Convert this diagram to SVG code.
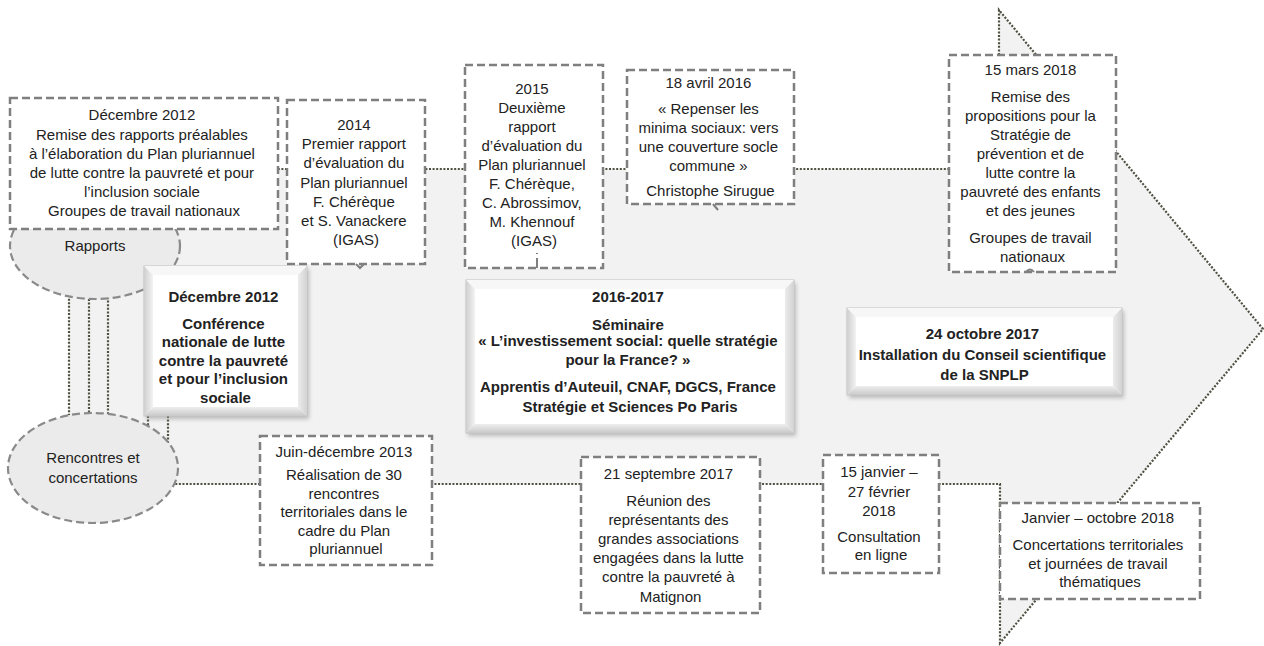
<svg xmlns="http://www.w3.org/2000/svg" width="1264" height="646" viewBox="0 0 1264 646">
  <defs>
    <style>
      .t { font-family: "Liberation Sans", Arial, sans-serif; font-size: 15px; fill: #222; text-anchor: middle; }
      .b { font-weight: bold; }
      .card { fill: #ffffff; stroke: #7f7f7f; stroke-width: 2.5; stroke-dasharray: 8 4; }
      .oval { fill: #ebebeb; stroke: #8a8a8a; stroke-width: 2.2; stroke-dasharray: 8 4; }
      .dots { fill: none; stroke: #4f4f42; stroke-width: 2.2; stroke-dasharray: 2 1.6; }
      .arrow { fill: #f2f2f2; stroke: #4f4f42; stroke-width: 2.2; stroke-dasharray: 2 1.6; }
      .tick { fill: none; stroke: #7f7f7f; stroke-width: 2; }
      .bev-out { fill: #ffffff; stroke: #c4c4c4; stroke-width: 1; }
      .bev-top { fill: #f7f7f7; }
      .bev-left { fill: url(#bevL); }
      .bev-right { fill: url(#bevR); }
      .bev-bot { fill: url(#bevB); }
      .bev-in { fill: #ffffff; }
      .shadow { fill: #8c8c8c; opacity: 0.55; filter: url(#soft); }
    </style>
    <linearGradient id="bevL" x1="0" y1="0" x2="1" y2="0">
      <stop offset="0" stop-color="#cfcfcf"/>
      <stop offset="1" stop-color="#f3f3f3"/>
    </linearGradient>
    <linearGradient id="bevR" x1="0" y1="0" x2="1" y2="0">
      <stop offset="0" stop-color="#ececec"/>
      <stop offset="1" stop-color="#d2d2d2"/>
    </linearGradient>
    <linearGradient id="bevB" x1="0" y1="0" x2="0" y2="1">
      <stop offset="0" stop-color="#eeeeee"/>
      <stop offset="1" stop-color="#c9c9c9"/>
    </linearGradient>
    <filter id="soft" x="-10%" y="-10%" width="120%" height="130%">
      <feGaussianBlur stdDeviation="2"/>
    </filter>
  </defs>

  <rect width="1264" height="646" fill="#ffffff"/>

  <!-- large timeline arrow in the background -->
  <g id="timeline-arrow">
    <polygon class="arrow" points="69,169 999,169 999,10 1263,329 1000,643 1000,484 69,484"/>
  </g>

  <!-- extra dotted links between the two ovals and the conference box -->
  <g id="connectors">
    <line class="dots" x1="89" y1="299" x2="89" y2="414"/>
    <line class="dots" x1="108" y1="297" x2="108" y2="415"/>
    <line class="dots" x1="148" y1="416" x2="148" y2="428"/>
    <line class="dots" x1="168" y1="416" x2="168" y2="443"/>
  </g>

  <g id="node-rapports">
    <ellipse class="oval" cx="95" cy="246" rx="85" ry="53"/>
    <text class="t" x="95" y="251">Rapports</text>
  </g>

  <g id="node-rencontres">
    <ellipse class="oval" cx="93" cy="468" rx="85" ry="55"/>
    <text class="t"><tspan x="93" y="463">Rencontres et</tspan><tspan x="93" y="483">concertations</tspan></text>
  </g>

  <g id="node-dec2012-rapports">
    <rect class="card" x="10" y="98" width="268" height="131"/>
    <text class="t">
      <tspan x="144" y="120">Décembre 2012</tspan>
      <tspan x="144" y="139.5">Remise des rapports préalables</tspan>
      <tspan x="144" y="158.5">à l’élaboration du Plan pluriannuel</tspan>
      <tspan x="144" y="178">de lutte contre la pauvreté et pour</tspan>
      <tspan x="144" y="197">l’inclusion sociale</tspan>
      <tspan x="144" y="216">Groupes de travail nationaux</tspan>
    </text>
  </g>

  <g id="node-2014">
    <rect class="card" x="287" y="100" width="138" height="164"/>
    <path class="tick" d="M356,264 l4,4 l4,-4"/>
    <text class="t">
      <tspan x="356" y="130">2014</tspan>
      <tspan x="356" y="149">Premier rapport</tspan>
      <tspan x="356" y="168">d’évaluation du</tspan>
      <tspan x="356" y="188">Plan pluriannuel</tspan>
      <tspan x="356" y="207">F. Chérèque</tspan>
      <tspan x="356" y="226">et S. Vanackere</tspan>
      <tspan x="356" y="245">(IGAS)</tspan>
    </text>
  </g>

  <g id="node-2015">
    <rect class="card" x="465" y="65" width="138" height="203"/>
    <path class="tick" d="M537,253 v1 M537,258 v10"/>
    <text class="t">
      <tspan x="534" y="94">2015</tspan>
      <tspan x="534" y="113">Deuxième</tspan>
      <tspan x="534" y="132">rapport</tspan>
      <tspan x="534" y="151">d’évaluation du</tspan>
      <tspan x="534" y="170">Plan pluriannuel</tspan>
      <tspan x="534" y="189">F. Chérèque,</tspan>
      <tspan x="534" y="208">C. Abrossimov,</tspan>
      <tspan x="534" y="227">M. Khennouf</tspan>
      <tspan x="534" y="246">(IGAS)</tspan>
    </text>
  </g>

  <g id="node-avril2016">
    <rect class="card" x="627" y="70" width="167" height="134"/>
    <path class="tick" d="M713,204 l5,6"/>
    <text class="t">
      <tspan x="710.5" y="87.5">18 avril 2016</tspan>
      <tspan x="710.5" y="114">« Repenser les</tspan>
      <tspan x="710.5" y="133">minima sociaux: vers</tspan>
      <tspan x="710.5" y="152">une couverture socle</tspan>
      <tspan x="710.5" y="171">commune »</tspan>
      <tspan x="710.5" y="196">Christophe Sirugue</tspan>
    </text>
  </g>

  <g id="node-mars2018">
    <rect class="card" x="949" y="55" width="167" height="217"/>
    <path class="tick" d="M1026,272 q4,-5 8,0"/>
    <text class="t">
      <tspan x="1032.5" y="75">15 mars 2018</tspan>
      <tspan x="1032.5" y="101.5">Remise des</tspan>
      <tspan x="1032.5" y="120.5">propositions pour la</tspan>
      <tspan x="1032.5" y="140">Stratégie de</tspan>
      <tspan x="1032.5" y="159">prévention et de</tspan>
      <tspan x="1032.5" y="178">lutte contre la</tspan>
      <tspan x="1032.5" y="197">pauvreté des enfants</tspan>
      <tspan x="1032.5" y="216">et des jeunes</tspan>
      <tspan x="1032.5" y="243">Groupes de travail</tspan>
      <tspan x="1032.5" y="262">nationaux</tspan>
    </text>
  </g>

  <g id="node-conference">
    <rect class="shadow" x="146" y="269" width="163" height="150"/>
    <rect class="bev-out" x="144" y="266" width="163" height="150"/>
    <polygon class="bev-top" points="144,266 307,266 298,275 153,275"/>
    <polygon class="bev-left" points="144,266 153,275 153,407 144,416"/>
    <polygon class="bev-right" points="307,266 298,275 298,407 307,416"/>
    <polygon class="bev-bot" points="144,416 153,407 298,407 307,416"/>
    <rect class="bev-in" x="153" y="275" width="145" height="132"/>
    <text class="t b">
      <tspan x="225.5" y="302">Décembre 2012</tspan>
      <tspan x="225.5" y="329">Conférence</tspan>
      <tspan x="225.5" y="347">nationale de lutte</tspan>
      <tspan x="225.5" y="365.5">contre la pauvreté</tspan>
      <tspan x="225.5" y="384">et pour l’inclusion</tspan>
      <tspan x="225.5" y="402.5">sociale</tspan>
    </text>
  </g>

  <g id="node-seminaire">
    <rect class="shadow" x="468" y="283" width="328" height="153"/>
    <rect class="bev-out" x="466" y="280" width="328" height="153"/>
    <polygon class="bev-top" points="466,280 794,280 785,289 475,289"/>
    <polygon class="bev-left" points="466,280 475,289 475,424 466,433"/>
    <polygon class="bev-right" points="794,280 785,289 785,424 794,433"/>
    <polygon class="bev-bot" points="466,433 475,424 785,424 794,433"/>
    <rect class="bev-in" x="475" y="289" width="310" height="135"/>
    <text class="t b">
      <tspan x="630" y="302">2016-2017</tspan>
      <tspan x="630" y="330">Séminaire</tspan>
      <tspan x="630" y="346">« L’investissement social: quelle stratégie</tspan>
      <tspan x="630" y="365">pour la France? »</tspan>
      <tspan x="630" y="391.5">Apprentis d’Auteuil, CNAF, DGCS, France</tspan>
      <tspan x="630" y="411.5">Stratégie et Sciences Po Paris</tspan>
    </text>
  </g>

  <g id="node-octobre2017">
    <rect class="shadow" x="849" y="311" width="275" height="87"/>
    <rect class="bev-out" x="847" y="308" width="275" height="87"/>
    <polygon class="bev-top" points="847,308 1122,308 1113,317 856,317"/>
    <polygon class="bev-left" points="847,308 856,317 856,386 847,395"/>
    <polygon class="bev-right" points="1122,308 1113,317 1113,386 1122,395"/>
    <polygon class="bev-bot" points="847,395 856,386 1113,386 1122,395"/>
    <rect class="bev-in" x="856" y="317" width="257" height="69"/>
    <text class="t b">
      <tspan x="984.5" y="339">24 octobre 2017</tspan>
      <tspan x="984.5" y="360">Installation  du Conseil scientifique</tspan>
      <tspan x="984.5" y="380">de la SNPLP</tspan>
    </text>
  </g>

  <g id="node-juin2013">
    <rect class="card" x="260" y="436" width="172" height="129"/>
    <text class="t">
      <tspan x="346" y="456.5">Juin-décembre 2013</tspan>
      <tspan x="346" y="480">Réalisation de 30</tspan>
      <tspan x="346" y="498.5">rencontres</tspan>
      <tspan x="346" y="517">territoriales dans le</tspan>
      <tspan x="346" y="535.5">cadre du Plan</tspan>
      <tspan x="346" y="554">pluriannuel</tspan>
    </text>
  </g>

  <g id="node-sept2017">
    <rect class="card" x="581" y="457" width="179" height="156"/>
    <text class="t">
      <tspan x="670.5" y="479">21 septembre 2017</tspan>
      <tspan x="670.5" y="506">Réunion des</tspan>
      <tspan x="670.5" y="525">représentants des</tspan>
      <tspan x="670.5" y="544">grandes associations</tspan>
      <tspan x="670.5" y="563">engagées dans la lutte</tspan>
      <tspan x="670.5" y="582">contre la pauvreté à</tspan>
      <tspan x="670.5" y="601.5">Matignon</tspan>
    </text>
  </g>

  <g id="node-consultation">
    <rect class="card" x="823" y="455" width="116" height="118"/>
    <text class="t">
      <tspan x="881" y="477">15 janvier –</tspan>
      <tspan x="881" y="496.5">27 février</tspan>
      <tspan x="881" y="516">2018</tspan>
      <tspan x="881" y="541.5">Consultation</tspan>
      <tspan x="881" y="560">en ligne</tspan>
    </text>
  </g>

  <g id="node-concertations2018">
    <rect class="card" x="1000" y="503" width="200" height="96"/>
    <text class="t">
      <tspan x="1100" y="523">Janvier – octobre 2018</tspan>
      <tspan x="1100" y="550">Concertations territoriales</tspan>
      <tspan x="1100" y="568.5">et journées de travail</tspan>
      <tspan x="1100" y="587">thématiques</tspan>
    </text>
  </g>
</svg>
